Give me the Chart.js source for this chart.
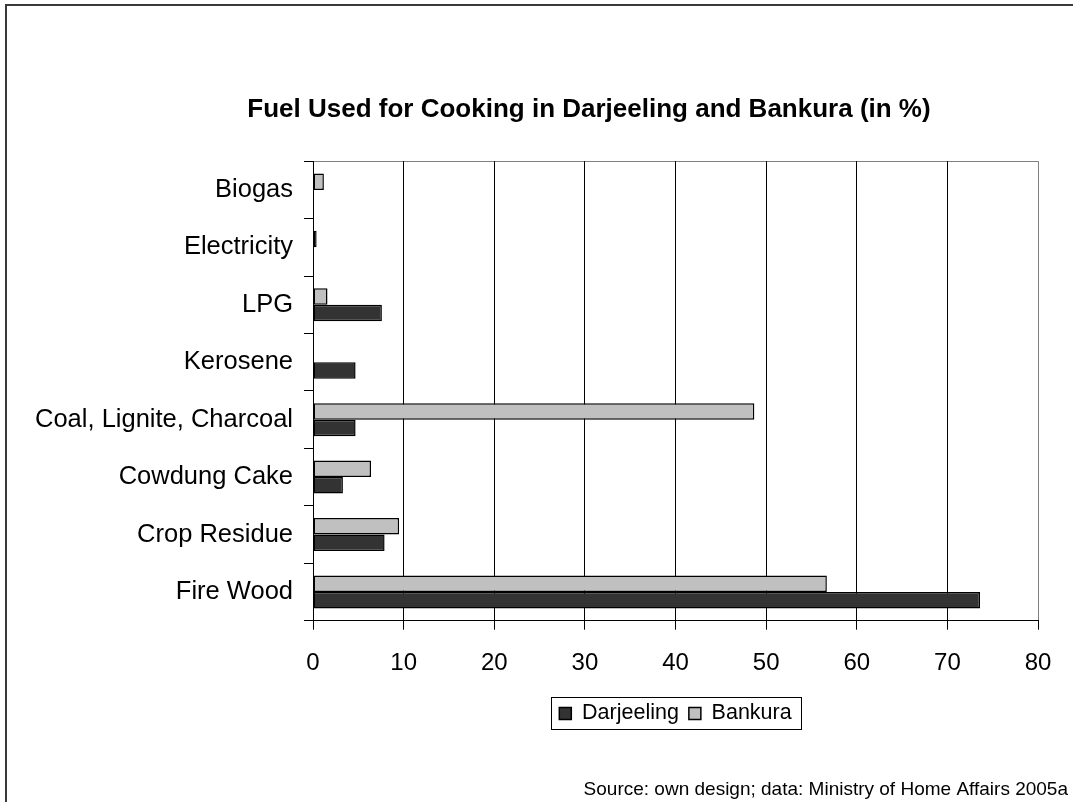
<!DOCTYPE html>
<html>
<head>
<meta charset="utf-8">
<script src="https://cdn.jsdelivr.net/npm/chart.js@4/dist/chart.umd.min.js"></script>
<style>
  html, body { margin:0; padding:0; background:#fff; overflow:hidden; }
  #frame { position:absolute; left:5px; top:4px; width:1200px; height:900px;
           border-left:2px solid #3a3a3a; border-top:2px solid #3a3a3a; pointer-events:none; }
  canvas { position:absolute; left:0; top:0; }
</style>
</head>
<body>
<canvas id="chart" width="1073" height="802"></canvas>
<div id="frame"></div>
<script>
// categories listed top to bottom as they appear on the axis
const categories = ["Biogas", "Electricity", "LPG", "Kerosene",
  "Coal, Lignite, Charcoal", "Cowdung Cake", "Crop Residue", "Fire Wood"];
const darjeeling = [null, null, 7.6, 4.7, 4.7, 3.3, 7.9, 73.6];
const bankura    = [1.2, 0.4, 1.6, null, 48.7, 6.4, 9.5, 56.7];
const xMin = 0, xMax = 80, xStep = 10;

const FONT = "'Liberation Sans', Arial, sans-serif";

// box around the legend entries
const legendFrame = {
  id: "legendFrame",
  afterDraw(chart){
    const boxes = chart.legend && chart.legend.legendHitBoxes;
    if(!boxes || !boxes.length) return;
    let l = Infinity, r = -Infinity, t = Infinity, b = -Infinity;
    boxes.forEach(h=>{
      l = Math.min(l, h.left); r = Math.max(r, h.left + h.width);
      t = Math.min(t, h.top); b = Math.max(b, h.top + h.height);
    });
    const cy = (t + b) / 2, ctx = chart.ctx;
    ctx.save();
    ctx.strokeStyle = "#000"; ctx.lineWidth = 1;
    ctx.strokeRect(Math.round(l - 8) + .5, Math.round(cy - 16) + .5,
                   Math.round(r - l + 18), 32);
    ctx.restore();
  }
};

// title sits a bit right of the canvas centre
const titleShift = {
  id: "titleShift",
  afterLayout(chart){
    if(chart.titleBlock) chart.titleBlock.left = 110;
  }
};

let c = document.getElementById("chart").getContext("2d");
let chart = new Chart(c, {
  type: "bar",
  data: {
    labels: categories,
    datasets: [
      {label:"Bankura", data:bankura, backgroundColor:"#c0c0c0", borderColor:"#000",
       borderWidth:1.5, borderSkipped:false},
      {label:"Darjeeling", data:darjeeling, backgroundColor:"#333333", borderColor:"#000",
       borderWidth:1.5, borderSkipped:false}
    ]
  },
  options: {
    indexAxis: "y",
    responsive: false,
    animation: false,
    devicePixelRatio: 1,
    layout: {padding:{left:0, right:5, top:0, bottom:0}},
    datasets: {bar:{categoryPercentage:0.575, barPercentage:1}},
    scales: {
      y: {
        type: "category",
        afterFit: s=>{ s.width = 313; },
        grid: {
          offset: true, drawOnChartArea: true, tickLength: 9, tickColor: "#000",
          color: ctx=> ctx.index === 0 ? "#808080" : "rgba(0,0,0,0)"
        },
        border: {color:"#000", width:1},
        ticks: {color:"#000", padding:11, font:{family:FONT, size:25.5}}
      },
      x: {
        min: xMin, max: xMax,
        afterFit: s=>{ s.height = 72; s.paddingRight = 35; },
        grid: {
          tickLength: 9, tickColor: "#000",
          color: ctx=> (ctx.tick && ctx.tick.value === xMax) ? "#808080" : "#000"
        },
        border: {color:"#000", width:1},
        ticks: {stepSize:xStep, color:"#000", padding:19, font:{family:FONT, size:24}}
      }
    },
    plugins: {
      title: {
        display: true,
        text: "Fuel Used for Cooking in Darjeeling and Bankura (in %)",
        color: "#000",
        font: {family:FONT, size:26, weight:"bold", lineHeight:1.2},
        padding: {top:94, bottom:36}
      },
      subtitle: {
        display: true,
        position: "bottom",
        align: "end",
        text: "Source: own design; data: Ministry of Home Affairs 2005a",
        color: "#000",
        font: {family:FONT, size:19, lineHeight:1.2},
        padding: {top:44, bottom:1}
      },
      legend: {
        position: "bottom",
        fullSize: false,
        labels: {
          color: "#000",
          boxWidth: 12, boxHeight: 12, padding: 10,
          font: {family:FONT, size:21.5},
          sort: (a, b)=> b.datasetIndex - a.datasetIndex
        }
      },
      tooltip: {enabled:false}
    }
  },
  plugins: [legendFrame, titleShift]
});
</script>
</body>
</html>
